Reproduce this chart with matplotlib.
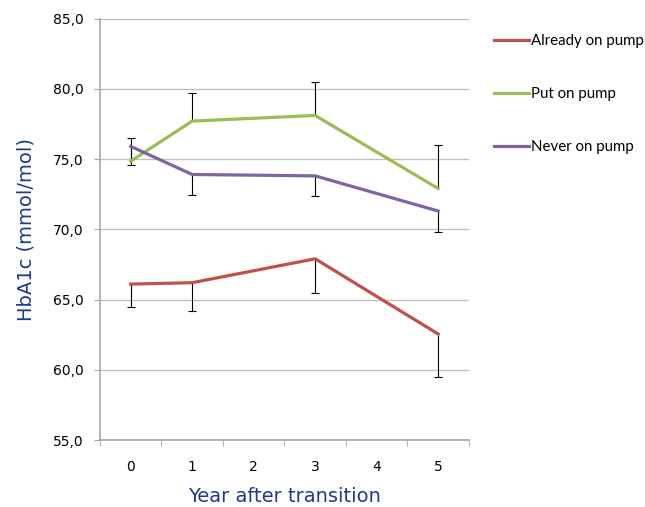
import matplotlib.pyplot as plt
import numpy as np

years = [0, 1, 3, 5]
already = [66.1, 66.2, 67.9, 62.55]
already_err = [1.6, 2.0, 2.4, 3.05]      # drawn below the line
put_on = [74.85, 77.7, 78.1, 72.9]
put_on_err = [1.65, 2.0, 2.4, 3.1]       # drawn above the line
never = [75.9, 73.9, 73.8, 71.3]
never_err = [1.3, 1.45, 1.4, 1.5]        # drawn below the line

labels = ['Already on pump', 'Put on pump', 'Never on pump']
colors = ['#C0504D', '#9BBB59', '#8064A2']
navy = '#1F3A8A'

fig = plt.figure(figsize=(6.45, 5.07), dpi=100)
ax = fig.add_axes([0.155, 0.132, 0.572, 0.8315])

# one-sided error bars: -1 below, +1 above
series = [(already, already_err, -1), (put_on, put_on_err, 1), (never, never_err, -1)]
lines = []
for (vals, err, side), lab, c in zip(series, labels, colors):
    ends = np.array(vals) + side * np.array(err)
    ax.vlines(years, vals, ends, color='black', lw=0.8, zorder=2)
    ax.plot(years, ends, ls='none', marker='_', ms=6, mew=0.8, color='black', zorder=2)
    ln, = ax.plot(years, vals, color=c, lw=2.3, label=lab, zorder=3)
    lines.append(ln)

ax.set_xlim(-0.5, 5.5)
ax.set_ylim(55, 85)
ax.set_yticks(np.arange(55, 86, 5))
ax.set_yticklabels([('%.1f' % v).replace('.', ',') for v in np.arange(55, 86, 5)])
ax.set_xticks(range(6))
ax.set_xticks(np.arange(-0.5, 5.6, 1), minor=True)
ax.tick_params(axis='x', which='major', length=0, pad=14, labelsize=10)
ax.tick_params(axis='x', which='minor', length=4, color='#A6A6A6')
ax.tick_params(axis='y', length=4, color='#A6A6A6', pad=8, labelsize=10)

ax.grid(axis='y', color='#BFBFBF', lw=1, zorder=0)
for s in ['top', 'right']:
    ax.spines[s].set_visible(False)
for s in ['left', 'bottom']:
    ax.spines[s].set_color('#A6A6A6')
    ax.spines[s].set_linewidth(1.2)

ax.set_xlabel('Year after transition', fontsize=14, color=navy, labelpad=10)
ax.set_ylabel('HbA1c (mmol/mol)', fontsize=14, color=navy, labelpad=12)

fig.legend(handles=lines, loc='upper left', bbox_to_anchor=(0.745, 0.96),
           frameon=False, handlelength=2.3, handletextpad=0.15,
           labelspacing=2.62, prop={'family': 'Lato', 'size': 10.8})

fig.savefig('out.png', dpi=100)
